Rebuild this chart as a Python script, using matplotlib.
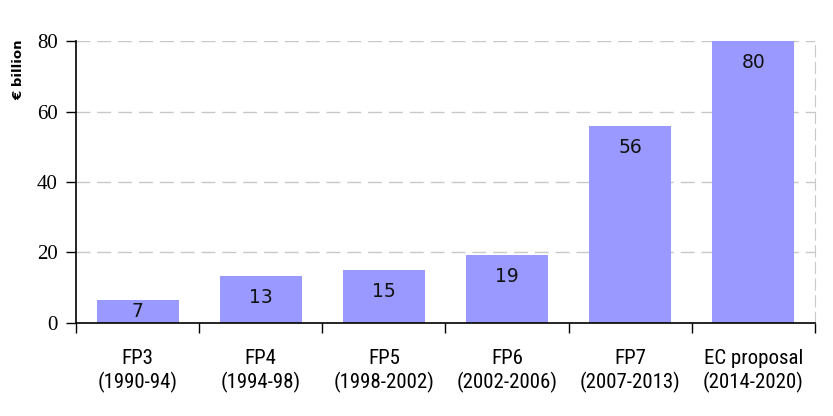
import matplotlib
matplotlib.use("Agg")
import matplotlib.pyplot as plt
import numpy as np
from matplotlib import font_manager

programmes = ["FP3", "FP4", "FP5", "FP6", "FP7", "EC proposal"]
periods = ["(1990-94)", "(1994-98)", "(1998-2002)", "(2002-2006)", "(2007-2013)", "(2014-2020)"]
budget = [6.5, 13.3, 15.0, 19.3, 55.9, 80.0]
budget_labels = ["7", "13", "15", "19", "56", "80"]

names = {f.name for f in font_manager.fontManager.ttflist}
narrow = "DejaVu Sans"
for cand in ["Liberation Sans Narrow", "Roboto Condensed", "Open Sans Condensed", "DejaVu Sans Condensed"]:
    if cand in names:
        narrow = cand
        break

fig = plt.figure(figsize=(8.33, 4.16), dpi=100)
ax = fig.add_axes([0.0912, 0.2236, 0.8872, 0.6778])

x = np.arange(len(budget))
ax.bar(x, budget, width=0.665, color="#9999FF", zorder=2)

# value labels sit just inside the bar end
for xi, v, lab in zip(x, budget, budget_labels):
    ax.text(xi, max(v - 6, v / 2), lab, ha="center", va="center",
            fontsize=13.5, family="DejaVu Sans", color="#111111", zorder=3)

ax.set_xlim(-0.5, len(budget) - 0.5)
ax.set_ylim(0, 80)
ax.set_yticks([0, 20, 40, 60, 80])
ax.set_yticklabels(["0", "20", "40", "60", "80"], family="Liberation Serif", fontsize=15)
ax.yaxis.grid(True, color="#C8C8C8", linestyle=(0, (10, 5)), linewidth=1, zorder=0)
ax.tick_params(axis="y", direction="out", length=7, width=1, pad=6)

# category boundaries as ticks, labels in between
ax.set_xticks(np.arange(len(budget) + 1) - 0.5)
ax.set_xticklabels([])
ax.set_xticks(x, minor=True)
ax.set_xticklabels([p + "\n" + q for p, q in zip(programmes, periods)], minor=True,
                   family=narrow, fontsize=15, linespacing=1.2)
ax.tick_params(axis="x", which="major", direction="out", length=7, width=1)
ax.tick_params(axis="x", which="minor", length=0, pad=19)

ax.spines["top"].set_visible(False)
ax.spines["right"].set_color("#C8C8C8")
ax.spines["right"].set_linestyle((0, (10, 5)))
ax.spines["left"].set_linewidth(1.2)
ax.spines["bottom"].set_linewidth(1.2)

fig.text(0.022, 0.832, "€ billion", rotation=90, ha="center", va="center",
         fontsize=9.5, fontweight="bold", family="DejaVu Sans")

fig.savefig("out.png", dpi=100)
